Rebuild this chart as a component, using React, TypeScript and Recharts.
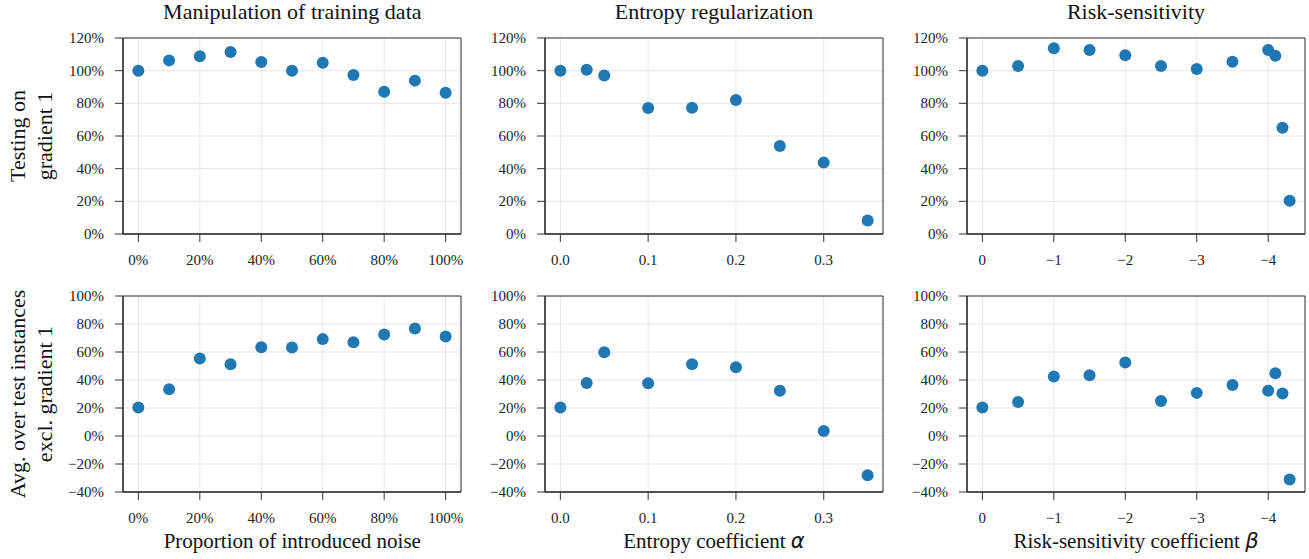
import React from "react";
import {
  ScatterChart,
  Scatter,
  XAxis,
  YAxis,
  CartesianGrid,
  ReferenceArea,
} from "recharts";

// x values per column
const noiseX = [0, 10, 20, 30, 40, 50, 60, 70, 80, 90, 100];
const alphaX = [0, 0.03, 0.05, 0.1, 0.15, 0.2, 0.25, 0.3, 0.35];
const betaX = [0, -0.5, -1, -1.5, -2, -2.5, -3, -3.5, -4, -4.1, -4.2, -4.3];

// top row: testing on gradient 1 (%)
const noiseGrad1 = [100, 106.3, 108.8, 111.4, 105.3, 100, 104.9, 97.3, 87.1, 93.9, 86.5];
const alphaGrad1 = [100, 100.6, 97.1, 77.1, 77.3, 82, 53.9, 43.7, 8.2];
const betaGrad1 = [100, 102.9, 113.7, 112.7, 109.4, 102.9, 101, 105.5, 112.7, 109.2, 65.1, 20.4];

// bottom row: avg over test instances excl. gradient 1 (%)
const noiseOthers = [20.3, 33.4, 55.3, 51.3, 63.4, 63.2, 69.2, 67.0, 72.5, 76.8, 71.1];
const alphaOthers = [20.3, 37.9, 59.9, 37.7, 51.3, 49.1, 32.4, 3.6, -28.1];
const betaOthers = [20.3, 24.3, 42.5, 43.4, 52.5, 25.0, 30.8, 36.5, 32.4, 44.8, 30.3, -31.0];

const noiseTicks = [0, 20, 40, 60, 80, 100];
const alphaTicks = [0, 0.1, 0.2, 0.3];
const betaTicks = [0, -1, -2, -3, -4];
const topYTicks = [0, 20, 40, 60, 80, 100, 120];
const bottomYTicks = [-40, -20, 0, 20, 40, 60, 80, 100];

const titles = ["Manipulation of training data", "Entropy regularization", "Risk-sensitivity"];

const SERIF = '"Liberation Serif", "Times New Roman", serif';
const PW = 338;
const PH = 196;
const colLeft = [123.3, 545, 967];
const rowTop = [37.5, 296];

const minus = (s: string) => s.replace("-", "\u2212");
const pct = (v: number) => minus(`${v}%`);
const dec1 = (v: number) => v.toFixed(1);
const intFmt = (v: number) => minus(`${v}`);

const toPoints = (xs: number[], ys: number[]) => xs.map((x, i) => ({ x, y: ys[i] }));

// serif tick labels; x ticks hang below, y ticks sit centred on the gridline
const makeTick = (fmt: (v: number) => string, axis: "x" | "y") => (props: any) => {
  const { x, y, payload } = props;
  return (
    <text
      x={x}
      y={y}
      dy={axis === "x" ? 11 : 5}
      textAnchor={axis === "x" ? "middle" : "end"}
      fontFamily={SERIF}
      fontSize={15}
      fill="#222"
    >
      {fmt(payload.value)}
    </text>
  );
};

const dot = (props: any) => <circle cx={props.cx} cy={props.cy} r={6} fill="#1f77b4" />;

type PanelProps = {
  left: number;
  top: number;
  points: { x: number; y: number }[];
  xTicks: number[];
  xDomain: [number, number];
  xFmt: (v: number) => string;
  reversed?: boolean;
  yTicks: number[];
  yDomain: [number, number];
};

function Panel({ left, top, points, xTicks, xDomain, xFmt, reversed, yTicks, yDomain }: PanelProps) {
  return (
    <div style={{ position: "absolute", left: left - 80, top: top - 10 }}>
      <ScatterChart
        width={PW + 90}
        height={PH + 50}
        margin={{ top: 10, right: 10, bottom: 0, left: 0 }}
      >
        <CartesianGrid stroke="#e6e6e6" />
        <XAxis
          type="number"
          dataKey="x"
          domain={xDomain}
          ticks={xTicks}
          interval={0}
          reversed={reversed}
          allowDataOverflow
          height={40}
          tickSize={8}
          tickMargin={12}
          tick={makeTick(xFmt, "x")}
          axisLine={{ stroke: "#111" }}
          tickLine={{ stroke: "#333" }}
        />
        <YAxis
          type="number"
          dataKey="y"
          domain={yDomain}
          ticks={yTicks}
          interval={0}
          allowDataOverflow
          width={80}
          tickSize={8}
          tickMargin={11}
          tick={makeTick(pct, "y")}
          axisLine={{ stroke: "#111" }}
          tickLine={{ stroke: "#333" }}
        />
        <ReferenceArea
          x1={xDomain[0]}
          x2={xDomain[1]}
          y1={yDomain[0]}
          y2={yDomain[1]}
          fill="none"
          stroke="#333"
          strokeWidth={1}
        />
        <Scatter data={points} fill="#1f77b4" shape={dot} isAnimationActive={false} />
      </ScatterChart>
    </div>
  );
}

export default function App() {
  const cols = [
    {
      xs: noiseX,
      top: noiseGrad1,
      bottom: noiseOthers,
      ticks: noiseTicks,
      domain: [-5, 105] as [number, number],
      fmt: pct,
      reversed: false,
    },
    {
      xs: alphaX,
      top: alphaGrad1,
      bottom: alphaOthers,
      ticks: alphaTicks,
      domain: [-0.0175, 0.3675] as [number, number],
      fmt: dec1,
      reversed: false,
    },
    {
      xs: betaX,
      top: betaGrad1,
      bottom: betaOthers,
      ticks: betaTicks,
      domain: [-4.515, 0.215] as [number, number],
      fmt: intFmt,
      reversed: true,
    },
  ];

  const greek = { fontFamily: '"DejaVu Sans", sans-serif', fontStyle: "italic" as const };
  const xLabels = [
    <>Proportion of introduced noise</>,
    <>
      Entropy coefficient <span style={greek}>α</span>
    </>,
    <>
      Risk-sensitivity coefficient <span style={greek}>β</span>
    </>,
  ];

  return (
    <div
      style={{
        position: "absolute",
        left: 0,
        top: 0,
        width: 1309,
        height: 559,
        background: "#fff",
        fontFamily: SERIF,
        color: "#111",
      }}
    >
      {cols.map((c, i) => (
        <React.Fragment key={i}>
          <div
            style={{
              position: "absolute",
              left: colLeft[i],
              width: PW,
              top: 1,
              fontSize: 22,
              lineHeight: "22px",
              textAlign: "center",
              whiteSpace: "nowrap",
            }}
          >
            {titles[i]}
          </div>
          <Panel
            left={colLeft[i]}
            top={rowTop[0]}
            points={toPoints(c.xs, c.top)}
            xTicks={c.ticks}
            xDomain={c.domain}
            xFmt={c.fmt}
            reversed={c.reversed}
            yTicks={topYTicks}
            yDomain={[0, 120]}
          />
          <Panel
            left={colLeft[i]}
            top={rowTop[1]}
            points={toPoints(c.xs, c.bottom)}
            xTicks={c.ticks}
            xDomain={c.domain}
            xFmt={c.fmt}
            reversed={c.reversed}
            yTicks={bottomYTicks}
            yDomain={[-40, 100]}
          />
          <div
            style={{
              position: "absolute",
              left: colLeft[i],
              width: PW,
              top: 530.5,
              fontSize: 21,
              lineHeight: "21px",
              textAlign: "center",
              whiteSpace: "nowrap",
            }}
          >
            {xLabels[i]}
          </div>
        </React.Fragment>
      ))}
      {[
        ["Testing on", "gradient 1"],
        ["Avg. over test instances", "excl. gradient 1"],
      ].map((lines, r) => (
        <div
          key={r}
          style={{
            position: "absolute",
            left: 30.5 - 150,
            top: rowTop[r] + PH / 2 - 27,
            width: 300,
            height: 54,
            fontSize: 22,
            lineHeight: "27px",
            textAlign: "center",
            whiteSpace: "nowrap",
            transform: "rotate(-90deg)",
            transformOrigin: "center",
          }}
        >
          {lines[0]}
          <br />
          {lines[1]}
        </div>
      ))}
    </div>
  );
}
